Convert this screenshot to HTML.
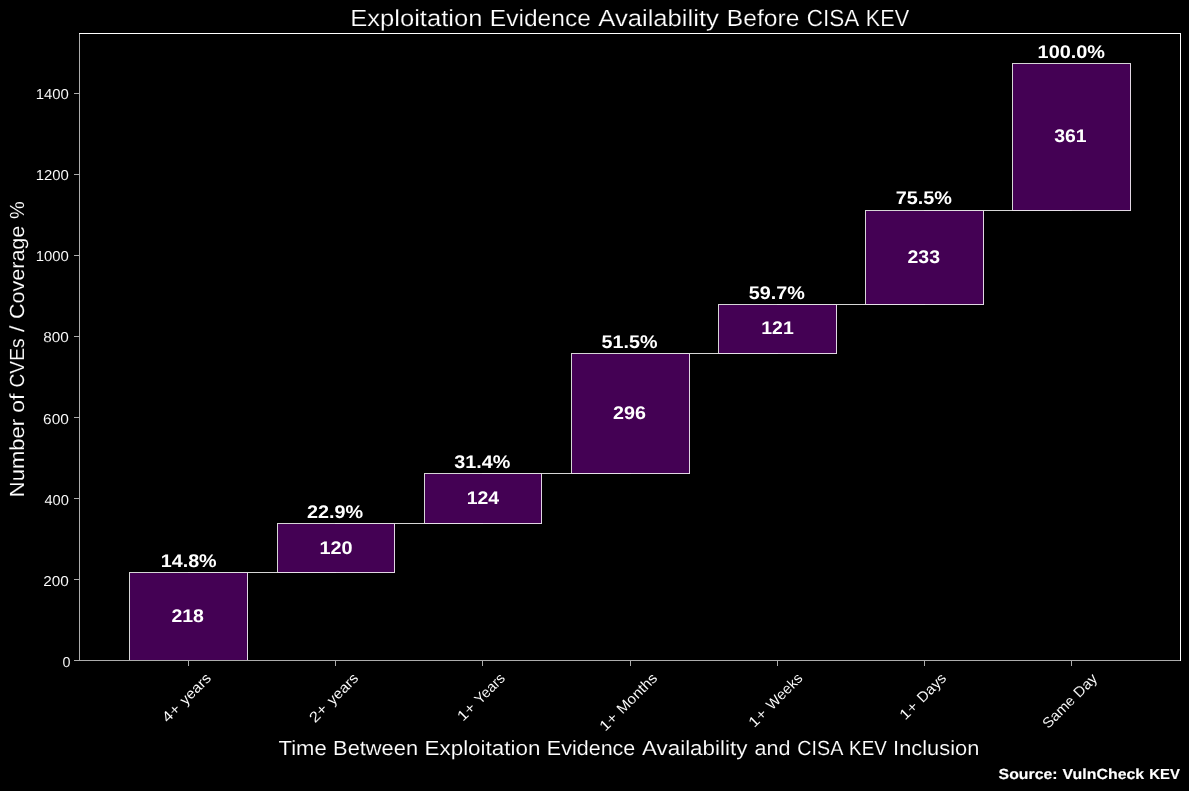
<!DOCTYPE html>
<html lang="en">
<head>
<meta charset="utf-8">
<title>Exploitation Evidence Availability Before CISA KEV</title>
<style>
html,body{margin:0;padding:0;background:#000;overflow:hidden;}
body{width:1189px;height:791px;overflow:hidden;font-family:"Liberation Sans",sans-serif;}
svg{display:block;position:absolute;left:0;top:0;will-change:transform;}
text{font-family:"Liberation Sans",sans-serif;fill:#fff;white-space:pre;}
.b{font-weight:bold;}
.ta{stroke:#000;stroke-width:0.23;paint-order:fill stroke;}
.tb{stroke:#000;stroke-width:0.13;paint-order:fill stroke;}
.ts{font-weight:bold;stroke:#fff;stroke-width:0.14;}
.tc{stroke:#000;stroke-width:0.07;paint-order:fill stroke;}
.bar{fill:#440154;stroke:#fff;stroke-opacity:0.84;stroke-width:1;}
.con{stroke:#fff;stroke-opacity:0.84;stroke-width:1;}
.cov{stroke:#fff;stroke-opacity:0.25;stroke-width:1;}
.sw{stroke:#fff;stroke-width:1;}
.sg{stroke:#adadad;stroke-width:1;}
</style>
</head>
<body>
<svg width="1189" height="791" viewBox="0 0 1189 791" shape-rendering="crispEdges" text-rendering="geometricPrecision">
<rect x="0" y="0" width="1189" height="791" fill="#000"/>
<g id="bars">
<rect class="bar" x="129.5" y="572.5" width="118" height="88"/>
<rect class="bar" x="277.5" y="523.5" width="117" height="49"/>
<rect class="bar" x="424.5" y="473.5" width="117" height="50"/>
<rect class="bar" x="571.5" y="353.5" width="118" height="120"/>
<rect class="bar" x="718.5" y="304.5" width="118" height="49"/>
<rect class="bar" x="865.5" y="210.5" width="118" height="94"/>
<rect class="bar" x="1012.5" y="63.5" width="118" height="147"/>
</g>
<g id="connectors">
<line class="cov" x1="188" y1="572.5" x2="248" y2="572.5"/>
<line class="con" x1="248" y1="572.5" x2="277" y2="572.5"/>
<line class="cov" x1="277" y1="572.5" x2="336" y2="572.5"/>
<line class="cov" x1="335" y1="523.5" x2="395" y2="523.5"/>
<line class="con" x1="395" y1="523.5" x2="424" y2="523.5"/>
<line class="cov" x1="424" y1="523.5" x2="483" y2="523.5"/>
<line class="cov" x1="482" y1="473.5" x2="542" y2="473.5"/>
<line class="con" x1="542" y1="473.5" x2="571" y2="473.5"/>
<line class="cov" x1="571" y1="473.5" x2="631" y2="473.5"/>
<line class="cov" x1="630" y1="353.5" x2="690" y2="353.5"/>
<line class="con" x1="690" y1="353.5" x2="718" y2="353.5"/>
<line class="cov" x1="718" y1="353.5" x2="778" y2="353.5"/>
<line class="cov" x1="777" y1="304.5" x2="837" y2="304.5"/>
<line class="con" x1="837" y1="304.5" x2="865" y2="304.5"/>
<line class="cov" x1="865" y1="304.5" x2="925" y2="304.5"/>
<line class="cov" x1="924" y1="210.5" x2="984" y2="210.5"/>
<line class="con" x1="984" y1="210.5" x2="1012" y2="210.5"/>
<line class="cov" x1="1012" y1="210.5" x2="1072" y2="210.5"/>
</g>
<g id="axes">
<line class="sg" x1="188.5" y1="661" x2="188.5" y2="666"/>
<line class="sg" x1="335.5" y1="661" x2="335.5" y2="666"/>
<line class="sg" x1="482.5" y1="661" x2="482.5" y2="666"/>
<line class="sg" x1="630.5" y1="661" x2="630.5" y2="666"/>
<line class="sg" x1="777.5" y1="661" x2="777.5" y2="666"/>
<line class="sg" x1="924.5" y1="661" x2="924.5" y2="666"/>
<line class="sg" x1="1071.5" y1="661" x2="1071.5" y2="666"/>
<line class="sg" x1="74" y1="660.5" x2="79" y2="660.5"/>
<line class="sg" x1="74" y1="579.5" x2="79" y2="579.5"/>
<line class="sg" x1="74" y1="498.5" x2="79" y2="498.5"/>
<line class="sg" x1="74" y1="417.5" x2="79" y2="417.5"/>
<line class="sg" x1="74" y1="336.5" x2="79" y2="336.5"/>
<line class="sg" x1="74" y1="255.5" x2="79" y2="255.5"/>
<line class="sg" x1="74" y1="174.5" x2="79" y2="174.5"/>
<line class="sg" x1="74" y1="93.5" x2="79" y2="93.5"/>
<line class="sg" x1="79.5" y1="33" x2="79.5" y2="661"/>
<line class="sg" x1="79" y1="660.5" x2="1181" y2="660.5"/>
<line class="sw" x1="79" y1="33.5" x2="1181" y2="33.5"/>
<line class="sw" x1="1180.5" y1="33" x2="1180.5" y2="661"/>
</g>
<g id="labels">
<text class="ta" transform="translate(350.12 25.67)" y="0" font-size="23.33"><tspan x="0.04" textLength="132.23" lengthAdjust="spacingAndGlyphs">Exploitation</tspan> <tspan x="139.76" textLength="100.92" lengthAdjust="spacingAndGlyphs">Evidence</tspan> <tspan x="248.15" textLength="120.64" lengthAdjust="spacingAndGlyphs">Availability</tspan> <tspan x="376.75" textLength="72.57" lengthAdjust="spacingAndGlyphs">Before</tspan> <tspan x="456.69" textLength="51.24" lengthAdjust="spacingAndGlyphs">CISA</tspan> <tspan x="515.74" textLength="43.24" lengthAdjust="spacingAndGlyphs">KEV</tspan></text>
<text class="tb" transform="translate(279.00 755.06)" y="0" font-size="20.42"><tspan x="-0.48" textLength="48.19" lengthAdjust="spacingAndGlyphs">Time</tspan> <tspan x="54.10" textLength="84.93" lengthAdjust="spacingAndGlyphs">Between</tspan> <tspan x="145.55" textLength="115.79" lengthAdjust="spacingAndGlyphs">Exploitation</tspan> <tspan x="267.88" textLength="88.41" lengthAdjust="spacingAndGlyphs">Evidence</tspan> <tspan x="362.95" textLength="105.51" lengthAdjust="spacingAndGlyphs">Availability</tspan> <tspan x="475.63" textLength="35.91" lengthAdjust="spacingAndGlyphs">and</tspan> <tspan x="518.31" textLength="44.90" lengthAdjust="spacingAndGlyphs">CISA</tspan> <tspan x="570.10" textLength="37.63" lengthAdjust="spacingAndGlyphs">KEV</tspan> <tspan x="614.13" textLength="86.17" lengthAdjust="spacingAndGlyphs">Inclusion</tspan></text>
<text class="tb" transform="translate(23.60 497.25) rotate(-90)" y="0" font-size="20.42"><tspan x="0.09" textLength="78.23" lengthAdjust="spacingAndGlyphs">Number</tspan> <tspan x="84.57" textLength="19.05" lengthAdjust="spacingAndGlyphs">of</tspan> <tspan x="109.82" textLength="48.89" lengthAdjust="spacingAndGlyphs">CVEs</tspan> <tspan x="165.33" textLength="6.39" lengthAdjust="spacingAndGlyphs">/</tspan> <tspan x="178.19" textLength="93.38" lengthAdjust="spacingAndGlyphs">Coverage</tspan> <tspan x="278.34" textLength="17.68" lengthAdjust="spacingAndGlyphs">%</tspan></text>
<text class="tc" transform="translate(167.53 723.55) rotate(-45)" y="0" font-size="14.58"><tspan x="0.31" textLength="19.33" lengthAdjust="spacingAndGlyphs">4+</tspan> <tspan x="25.27" textLength="37.58" lengthAdjust="spacingAndGlyphs">years</tspan></text>
<text class="tc" transform="translate(314.79 723.55) rotate(-45)" y="0" font-size="14.58"><tspan x="0.15" textLength="19.50" lengthAdjust="spacingAndGlyphs">2+</tspan> <tspan x="25.27" textLength="37.58" lengthAdjust="spacingAndGlyphs">years</tspan></text>
<text class="tc" transform="translate(462.62 722.40) rotate(-45)" y="0" font-size="14.58"><tspan x="0.45" textLength="19.32" lengthAdjust="spacingAndGlyphs">1+</tspan> <tspan x="24.78" textLength="36.45" lengthAdjust="spacingAndGlyphs">Years</tspan></text>
<text class="tc" transform="translate(604.89 732.39) rotate(-45)" y="0" font-size="14.58"><tspan x="0.45" textLength="19.32" lengthAdjust="spacingAndGlyphs">1+</tspan> <tspan x="25.01" textLength="50.41" lengthAdjust="spacingAndGlyphs">Months</tspan></text>
<text class="tc" transform="translate(754.04 728.59) rotate(-45)" y="0" font-size="14.58"><tspan x="0.45" textLength="19.32" lengthAdjust="spacingAndGlyphs">1+</tspan> <tspan x="25.38" textLength="44.61" lengthAdjust="spacingAndGlyphs">Weeks</tspan></text>
<text class="tc" transform="translate(905.02 721.16) rotate(-45)" y="0" font-size="14.58"><tspan x="0.45" textLength="19.32" lengthAdjust="spacingAndGlyphs">1+</tspan> <tspan x="25.03" textLength="34.46" lengthAdjust="spacingAndGlyphs">Days</tspan></text>
<text class="tc" transform="translate(1048.12 729.47) rotate(-45)" y="0" font-size="14.58"><tspan x="0.28" textLength="39.03" lengthAdjust="spacingAndGlyphs">Same</tspan> <tspan x="43.90" textLength="26.96" lengthAdjust="spacingAndGlyphs">Day</tspan></text>
<text class="tc" transform="translate(61.13 667.00)" y="0" font-size="14.44"><tspan x="1.35" textLength="8.00" lengthAdjust="spacingAndGlyphs">0</tspan></text>
<text class="tc" transform="translate(43.03 585.92)" y="0" font-size="14.44"><tspan x="0.24" textLength="25.64" lengthAdjust="spacingAndGlyphs">200</tspan></text>
<text class="tc" transform="translate(43.03 504.84)" y="0" font-size="14.44"><tspan x="1.36" textLength="24.49" lengthAdjust="spacingAndGlyphs">400</tspan></text>
<text class="tc" transform="translate(42.90 423.76)" y="0" font-size="14.44"><tspan x="0.22" textLength="25.79" lengthAdjust="spacingAndGlyphs">600</tspan></text>
<text class="tc" transform="translate(42.90 341.69)" y="0" font-size="14.44"><tspan x="0.41" textLength="25.60" lengthAdjust="spacingAndGlyphs">800</tspan></text>
<text class="tc" transform="translate(34.15 260.61)" y="0" font-size="14.44"><tspan x="1.59" textLength="33.18" lengthAdjust="spacingAndGlyphs">1000</tspan></text>
<text class="tc" transform="translate(34.15 179.53)" y="0" font-size="14.44"><tspan x="1.59" textLength="33.18" lengthAdjust="spacingAndGlyphs">1200</tspan></text>
<text class="tc" transform="translate(34.15 99.45)" y="0" font-size="14.44"><tspan x="1.59" textLength="33.18" lengthAdjust="spacingAndGlyphs">1400</tspan></text>
<text class="b" transform="translate(170.66 622.31)" y="0" font-size="18.33"><tspan x="0.72" textLength="32.51" lengthAdjust="spacingAndGlyphs">218</tspan></text>
<text class="b" transform="translate(159.16 567.10)" y="0" font-size="18.33"><tspan x="1.59" textLength="55.92" lengthAdjust="spacingAndGlyphs">14.8%</tspan></text>
<text class="b" transform="translate(317.92 553.80)" y="0" font-size="18.33"><tspan x="1.58" textLength="33.11" lengthAdjust="spacingAndGlyphs">120</tspan></text>
<text class="b" transform="translate(306.29 518.45)" y="0" font-size="18.33"><tspan x="0.71" textLength="56.13" lengthAdjust="spacingAndGlyphs">22.9%</tspan></text>
<text class="b" transform="translate(465.12 504.34)" y="0" font-size="18.33"><tspan x="1.61" textLength="32.46" lengthAdjust="spacingAndGlyphs">124</tspan></text>
<text class="b" transform="translate(453.62 468.18)" y="0" font-size="18.33"><tspan x="0.65" textLength="56.06" lengthAdjust="spacingAndGlyphs">31.4%</tspan></text>
<text class="b" transform="translate(612.38 419.21)" y="0" font-size="18.33"><tspan x="0.71" textLength="32.90" lengthAdjust="spacingAndGlyphs">296</tspan></text>
<text class="b" transform="translate(601.00 348.19)" y="0" font-size="18.33"><tspan x="0.60" textLength="55.87" lengthAdjust="spacingAndGlyphs">51.5%</tspan></text>
<text class="b" transform="translate(759.70 333.69)" y="0" font-size="18.33"><tspan x="1.61" textLength="32.44" lengthAdjust="spacingAndGlyphs">121</tspan></text>
<text class="b" transform="translate(748.13 299.13)" y="0" font-size="18.33"><tspan x="0.59" textLength="56.12" lengthAdjust="spacingAndGlyphs">59.7%</tspan></text>
<text class="b" transform="translate(906.83 262.93)" y="0" font-size="18.33"><tspan x="0.72" textLength="32.47" lengthAdjust="spacingAndGlyphs">233</tspan></text>
<text class="b" transform="translate(895.46 203.68)" y="0" font-size="18.33"><tspan x="0.28" textLength="56.23" lengthAdjust="spacingAndGlyphs">75.5%</tspan></text>
<text class="b" transform="translate(1053.52 141.53)" y="0" font-size="18.33"><tspan x="0.66" textLength="32.39" lengthAdjust="spacingAndGlyphs">361</tspan></text>
<text class="b" transform="translate(1036.03 58.33)" y="0" font-size="18.33"><tspan x="1.58" textLength="67.40" lengthAdjust="spacingAndGlyphs">100.0%</tspan></text>
<text class="ts" transform="translate(998.00 779.00)" y="0" font-size="14.58"><tspan x="0.59" textLength="59.03" lengthAdjust="spacingAndGlyphs">Source:</tspan> <tspan x="64.61" textLength="81.57" lengthAdjust="spacingAndGlyphs">VulnCheck</tspan> <tspan x="151.27" textLength="30.61" lengthAdjust="spacingAndGlyphs">KEV</tspan></text>
</g>
</svg>
</body>
</html>
